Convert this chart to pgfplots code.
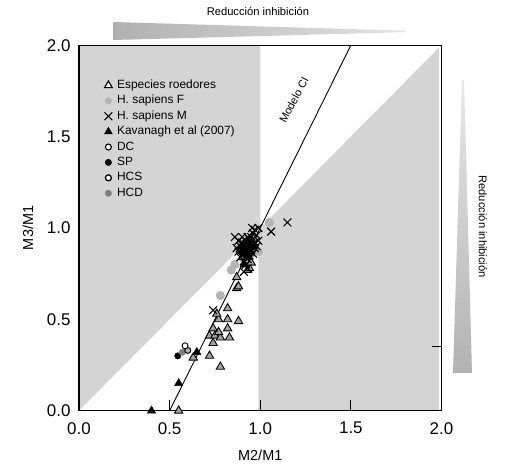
\documentclass[border=0pt]{standalone}
\usepackage{fontspec}
\setmainfont{Liberation Sans}
\usepackage{pgfplots}
\pgfplotsset{compat=1.18}

\definecolor{bggray}{HTML}{D4D4D4}
\definecolor{trigray}{HTML}{A2A2A2}
\definecolor{fgray}{HTML}{B4B4B4}
\definecolor{hcdgray}{HTML}{7E7E7E}

\begin{document}
\begin{tikzpicture}
  % page = 508 x 474 px, axis origin at pixel (79, 410.7)
  \path[use as bounding box] (-79bp,-63.3bp) rectangle (429bp,410.7bp);

  % wedges "Reduccion inhibicion"
  \shade[left color=gray!62, right color=gray!22]
    (34bp,388.7bp) -- (326bp,380bp) -- (326bp,378.5bp) -- (34bp,370.7bp) -- cycle;
  \node[font=\fontsize{11.2}{13}\selectfont] at (179bp,399.7bp) {Reducción inhibición};
  \shade[top color=gray!18, bottom color=gray!60]
    (383bp,330.7bp) -- (385bp,330.7bp) -- (393bp,37.7bp) -- (374bp,37.7bp) -- cycle;
  \node[font=\fontsize{11.2}{13}\selectfont, rotate=-90] at (404bp,184bp) {Reducción inhibición};

\begin{axis}[
    at={(0,0)}, anchor=south west,
    scale only axis,
    width=362.5bp, height=365.5bp,
    xmin=0, xmax=2, ymin=0, ymax=2,
    axis on top,
    axis line style={line width=1.1pt},
    xtick={0,0.5,1,1.5,2},
    ytick={0,0.5,1,1.5,2},
    xtick pos=bottom, ytick pos=left,
    xtick align=inside,
    major tick length=11bp,
    every tick/.style={black, line width=1pt},
    y tick style={draw=none},
    xticklabel style={yshift=-8bp},
    yticklabel style={xshift=-5bp},
    tick label style={font=\fontsize{17}{19}\selectfont},
    /pgf/number format/.cd, fixed, fixed zerofill, precision=1, assume math mode=true,
    /pgfplots/.cd,
    xlabel={M2/M1}, ylabel={M3/M1},
    label style={font=\fontsize{14.5}{16}\selectfont},
    xlabel style={at={(axis description cs:0.5,0)}, anchor=center, yshift=-45bp},
    ylabel style={at={(axis description cs:-0.1407,0.5)}, anchor=center},
    legend cell align=left,
    legend style={draw=none, fill=none, at={(21bp,335bp)}, anchor=north west,
      font=\fontsize{12}{14}\selectfont, row sep=0.3bp,
      nodes={text height=8.6bp, text depth=2.5bp, inner ysep=2bp, inner xsep=1.5bp}},
    legend image code/.code={\path (-5bp,0bp) (7bp,0bp); \draw[#1] plot coordinates {(0bp,0bp)};},
]

% shaded regions
\fill[bggray] (axis cs:0,0) -- (axis cs:0,2) -- (axis cs:1,2) -- (axis cs:1,1) -- cycle;
\fill[bggray] (axis cs:0.99,0) -- (axis cs:0.99,0.99) -- (axis cs:1.985,1.985) -- (axis cs:1.985,0) -- cycle;

% Modelo CI: M3/M1 = 2 M2/M1 - 1
\addplot[black, line width=0.9pt, forget plot] coordinates {(0.5,0) (1.5,2)};
\node[font=\fontsize{11}{13}\selectfont, rotate=62] at (axis cs:1.185,1.70) {Modelo CI};

% legend entries
\addlegendimage{only marks, mark=triangle*, mark size=4.5bp, mark options={fill=white, draw=black, line width=1.1pt}}
\addlegendentry{Especies roedores}
\addlegendimage{only marks, mark=*, mark size=3.3bp, mark options={fill=fgray, draw=fgray}}
\addlegendentry{H. sapiens F}
\addlegendimage{only marks, mark=x, mark size=5.5bp, mark options={black, line width=1pt}}
\addlegendentry{H. sapiens M}
\addlegendimage{only marks, mark=triangle*, mark size=4.5bp, mark options={fill=black, draw=black}}
\addlegendentry{Kavanagh et al (2007)}
\addlegendimage{only marks, mark=*, mark size=3bp, mark options={fill=white, draw=black, line width=1.1pt}}
\addlegendentry{DC}
\addlegendimage{only marks, mark=*, mark size=3.2bp, mark options={fill=black, draw=black}}
\addlegendentry{SP}
\addlegendimage{only marks, mark=*, mark size=3bp, mark options={fill=white, draw=black, line width=1.3pt}}
\addlegendentry{HCS}
\addlegendimage{only marks, mark=*, mark size=3.2bp, mark options={fill=hcdgray, draw=hcdgray}}
\addlegendentry{HCD}

% H. sapiens F
\addplot[only marks, mark=*, mark size=4.3bp, mark options={fill=fgray, draw=fgray}, forget plot]
  coordinates {(0.78,0.63) (0.86,0.80) (0.84,0.77) (1.05,1.03) (0.99,0.87)
               (0.91,0.83) (0.97,0.95) (0.89,0.90) (0.95,0.86)};

% Especies roedores
\addplot[only marks, mark=triangle*, mark size=4.8bp, mark options={fill=trigray, draw=black, line width=0.9pt}, forget plot]
  coordinates {(0.55,0.00) (0.78,0.24) (0.63,0.29) (0.72,0.30) (0.74,0.37)
               (0.72,0.41) (0.75,0.41) (0.78,0.40) (0.83,0.40) (0.77,0.43)
               (0.74,0.45) (0.82,0.45) (0.88,0.49) (0.77,0.50) (0.82,0.50)
               (0.76,0.53) (0.82,0.56) (0.87,0.67) (0.88,0.68) (0.87,0.73)
               (0.93,0.77) (0.94,0.78) (0.95,0.81) (0.90,0.84) (0.92,0.86)
               (0.96,0.90) (0.89,0.88)};

% Kavanagh et al (2007)
\addplot[only marks, mark=triangle*, mark size=4.8bp, mark options={fill=black, draw=black}, forget plot]
  coordinates {(0.40,0.00) (0.55,0.15) (0.65,0.32) (0.93,0.84) (0.91,0.80)};

% H. sapiens M
\addplot[only marks, mark=x, mark size=5.5bp, mark options={black, line width=1.1pt}, forget plot]
  coordinates {(0.86,0.95) (0.88,0.93) (0.90,0.92) (0.91,0.90) (0.92,0.91)
               (0.93,0.89) (0.94,0.90) (0.92,0.88) (0.90,0.88) (0.91,0.86)
               (0.93,0.86) (0.95,0.88) (0.96,0.91) (0.94,0.93) (0.95,0.95)
               (0.96,0.97) (0.97,0.99) (0.955,1.00) (0.98,0.96) (0.99,0.93)
               (0.97,0.92) (0.89,0.90) (0.88,0.87) (0.90,0.85) (0.92,0.84)
               (0.94,0.85) (0.96,0.86) (0.93,0.83) (0.91,0.82) (0.89,0.84)
               (0.92,0.93) (0.93,0.95) (0.95,0.92) (0.97,0.89) (0.98,0.90)
               (0.90,0.95) (0.87,0.89) (0.94,0.87) (0.92,0.80) (0.93,0.78)
               (0.91,0.76) (1.06,0.98) (1.15,1.03) (0.74,0.55) (0.99,1.00)
               (0.915,0.895) (0.925,0.875) (0.935,0.905) (0.905,0.875) (0.945,0.915)
               (0.925,0.915) (0.915,0.865) (0.935,0.865) (0.955,0.895) (0.905,0.905)};

% DC, SP, HCS, HCD
\addplot[only marks, mark=*, mark size=3.2bp, mark options={fill=black, draw=black}, forget plot]
  coordinates {(0.545,0.30)};
\addplot[only marks, mark=*, mark size=3.2bp, mark options={fill=hcdgray, draw=hcdgray}, forget plot]
  coordinates {(0.57,0.32)};
\addplot[only marks, mark=*, mark size=3bp, mark options={fill=fgray, draw=black, line width=1pt}, forget plot]
  coordinates {(0.60,0.33)};
\addplot[only marks, mark=*, mark size=3bp, mark options={fill=white, draw=black, line width=0.9pt}, forget plot]
  coordinates {(0.585,0.355)};

% stray tick on the right edge
\draw[line width=1pt] (axis cs:2,0.35) -- ++(-10bp,0);
% y ticks, outward
\draw[line width=1pt] (axis cs:0,0.5) -- ++(-5bp,0);
\draw[line width=1pt] (axis cs:0,1) -- ++(-5bp,0);
\draw[line width=1pt] (axis cs:0,1.5) -- ++(-5bp,0);
\draw[line width=1pt] (axis cs:0,2) -- ++(-5bp,0);
\end{axis}
\end{tikzpicture}
\end{document}
